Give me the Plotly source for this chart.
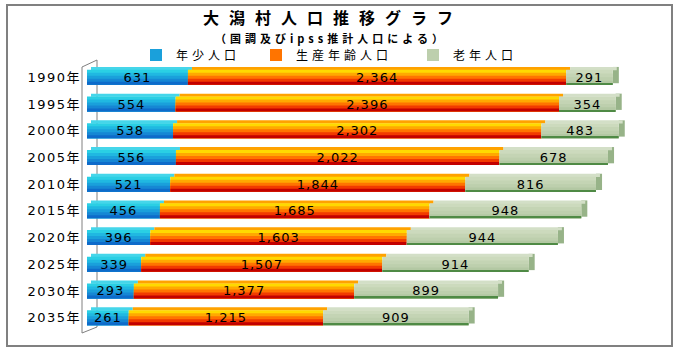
import plotly.graph_objects as go

years = ["1990年", "1995年", "2000年", "2005年", "2010年", "2015年", "2020年", "2025年", "2030年", "2035年"]
young = [631, 554, 538, 556, 521, 456, 396, 339, 293, 261]
working = [2364, 2396, 2302, 2022, 1844, 1685, 1603, 1507, 1377, 1215]
elderly = [291, 354, 483, 678, 816, 948, 944, 914, 899, 909]
series_names = ["年少人口", "生産年齢人口", "老年人口"]

pos = list(range(len(years)))
values = [young, working, elderly]
bases = [
    [0] * len(years),
    young[:],
    [a + b for a, b in zip(young, working)],
]
totals = [a + b + c for a, b, c in zip(young, working, elderly)]

band_colors = [
    ["#2ACFE4", "#20B8E1", "#1AA0DB", "#1687D4", "#0E6BCA"],
    ["#FFD900", "#FFA900", "#FF7400", "#F23A00", "#C20000"],
    ["#CCDABD", "#C4D4B4", "#BDCFAD", "#B3C8A3", "#4F8A45"],
]
band_starts = [
    [0, 0.2, 0.4, 0.6, 0.8],
    [0, 0.2, 0.4, 0.6, 0.8],
    [0, 0.25, 0.5, 0.72, 0.9],
]
top_colors = ["#45D6EA", "#FFA200", "#D3DFC7"]
legend_ids = ["legend", "legend2", "legend3"]

SHIFT = 25          # 3D top-face shift (x units)
CAP = 38            # end-cap depth (x units)
FRONT_W = 0.56
TOP_W = 0.11

fig = go.Figure()

# end cap of the last segment
fig.add_trace(go.Bar(
    y=pos, x=[CAP] * len(pos), base=totals, orientation="h",
    offset=-FRONT_W / 2 - TOP_W, width=FRONT_W + TOP_W - 0.06,
    marker=dict(color="#97B388", line=dict(width=0)),
    showlegend=False, hoverinfo="skip"))

for s in range(3):
    # top face
    fig.add_trace(go.Bar(
        y=pos, x=values[s], base=[b + SHIFT for b in bases[s]], orientation="h",
        offset=-FRONT_W / 2 - TOP_W, width=TOP_W + 0.01,
        marker=dict(color=top_colors[s], line=dict(width=0)),
        showlegend=False, hoverinfo="skip"))
    # front gradient bands (top -> bottom), each reaching the bottom edge
    for k, col in enumerate(band_colors[s]):
        st = band_starts[s][k] * FRONT_W
        fig.add_trace(go.Bar(
            y=pos, x=values[s], base=bases[s], orientation="h",
            offset=-FRONT_W / 2 + st, width=FRONT_W - st,
            marker=dict(color=col, line=dict(width=0)),
            name=f'<span style="letter-spacing:4px">{series_names[s]}</span>',
            showlegend=(k == 2), legend=legend_ids[s],
            hoverinfo="skip"))

# value labels
for s in range(3):
    fig.add_trace(go.Bar(
        y=pos, x=values[s], base=bases[s], orientation="h",
        offset=-FRONT_W / 2, width=FRONT_W,
        marker=dict(color="rgba(0,0,0,0)", line=dict(width=0)),
        text=[f'<span style="letter-spacing:1px">{v:,}</span>' for v in values[s]],
        textposition="inside", insidetextanchor="middle",
        constraintext="none",
        textfont=dict(family="DejaVu Sans, Noto Sans CJK JP", size=13, color="black"),
        name=series_names[s], showlegend=False,
        hovertemplate="%{y}: %{x:,}<extra>" + series_names[s] + "</extra>"))

L, R, T, B = 82, 38, 64, 19
PW = 680 - L - R
PH = 350 - T - B
X0 = -5 / 0.16

def px_x(x):
    return (x - L) / PW

def px_y(y):
    return (350 - B - y) / PH

legend_font = dict(family="Noto Sans CJK JP", size=12, color="black")
leg_common = dict(orientation="h", yanchor="middle", y=px_y(55), xanchor="left",
                  font=legend_font, bgcolor="rgba(0,0,0,0)", borderwidth=0)

fig.update_layout(
    width=680, height=350,
    margin=dict(l=L, r=R, t=T, b=B),
    paper_bgcolor="white", plot_bgcolor="white",
    barmode="overlay",
    xaxis=dict(range=[X0, X0 + PW / 0.16], showgrid=False, zeroline=False,
               showticklabels=False, ticks="", showline=False, fixedrange=True),
    yaxis=dict(range=[len(years) - 0.5, -0.5], tickmode="array", tickvals=pos,
               ticktext=[f'<span style="letter-spacing:1.5px">{y}</span>' for y in years],
               showgrid=False, zeroline=False, ticks="", showline=False,
               tickfont=dict(family="DejaVu Sans, Noto Sans CJK JP", size=13, color="black"),
               fixedrange=True),
    legend=dict(x=px_x(136), **leg_common),
    legend2=dict(x=px_x(256), **leg_common),
    legend3=dict(x=px_x(413), **leg_common),
    annotations=[
        dict(text='<b><span style="letter-spacing:10px">大潟村人口推移グラフ</span></b>',
             xref="paper", yref="paper", x=px_x(333), y=px_y(17.5),
             xanchor="center", yanchor="middle", showarrow=False,
             font=dict(family="Noto Sans CJK JP", size=16, color="black")),
        dict(text='<b><span style="letter-spacing:4px">（国調及びipss推計人口による）</span></b>',
             xref="paper", yref="paper", x=px_x(331), y=px_y(37.5),
             xanchor="center", yanchor="middle", showarrow=False,
             font=dict(family="Noto Sans CJK JP", size=11, color="black")),
    ],
    shapes=[
        dict(type="rect", xref="paper", yref="paper",
             x0=px_x(7), x1=px_x(672), y0=px_y(346), y1=px_y(5),
             line=dict(color="#808080", width=2), layer="below"),
        dict(type="line", xref="paper", yref="paper",
             x0=px_x(82), x1=px_x(82), y0=px_y(67), y1=px_y(333),
             line=dict(color="#808080", width=1), layer="below"),
        dict(type="line", xref="paper", yref="paper",
             x0=px_x(97), x1=px_x(97), y0=px_y(60), y1=px_y(327),
             line=dict(color="#808080", width=1), layer="below"),
        dict(type="line", xref="paper", yref="paper",
             x0=px_x(82), x1=px_x(97), y0=px_y(67), y1=px_y(60),
             line=dict(color="#808080", width=1), layer="below"),
        dict(type="line", xref="paper", yref="paper",
             x0=px_x(82), x1=px_x(97), y0=px_y(333), y1=px_y(327),
             line=dict(color="#808080", width=1), layer="below"),
    ],
)

fig.write_html("out.html")
